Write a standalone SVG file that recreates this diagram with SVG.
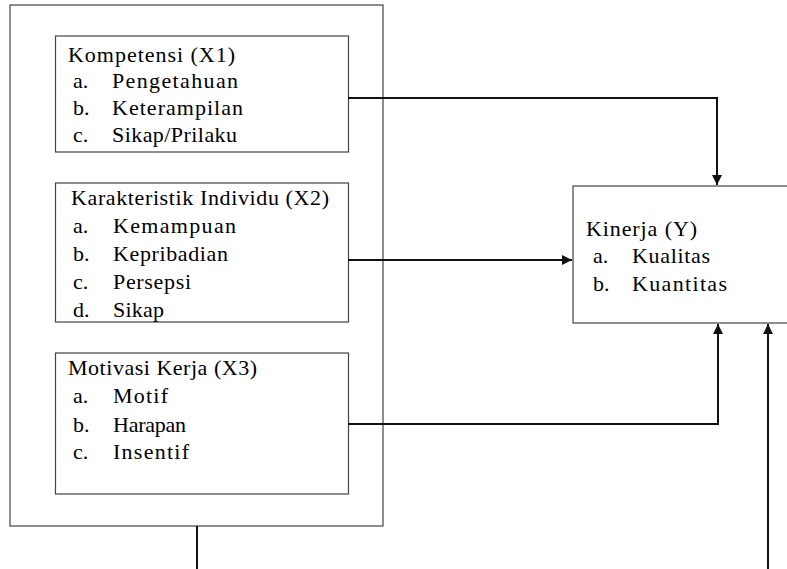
<svg xmlns="http://www.w3.org/2000/svg" width="787" height="569" viewBox="0 0 787 569">
<defs>
<style>
.box{fill:#fff;stroke:#444;stroke-width:1.2}
.t{font-family:"Liberation Serif","Times New Roman",serif;font-size:22px;fill:#000}
.c{fill:none;stroke:#111;stroke-width:2}
</style>
<marker id="ah" viewBox="0 0 10 10" refX="10" refY="5" markerWidth="11" markerHeight="10" markerUnits="userSpaceOnUse" orient="auto">
<path d="M0,0 L10,5 L0,10 Z" fill="#111"/>
</marker>
</defs>
<rect width="787" height="569" fill="#fff"/>
<g id="outer"><rect class="box" x="10" y="5" width="373" height="521"/></g>
<g id="x1">
<rect class="box" x="55.5" y="36" width="293" height="116"/>
<text class="t" x="68" y="62" textLength="167" lengthAdjust="spacing">Kompetensi (X1)</text>
<text class="t" x="73" y="88">a.</text><text class="t" x="112" y="88" textLength="126" lengthAdjust="spacing">Pengetahuan</text>
<text class="t" x="73" y="115">b.</text><text class="t" x="112" y="115" textLength="131" lengthAdjust="spacing">Keterampilan</text>
<text class="t" x="73" y="142">c.</text><text class="t" x="112" y="142" textLength="125" lengthAdjust="spacing">Sikap/Prilaku</text>
</g>
<g id="x2">
<rect class="box" x="55.5" y="183" width="293" height="139"/>
<text class="t" x="71" y="205" textLength="258" lengthAdjust="spacing">Karakteristik Individu (X2)</text>
<text class="t" x="73" y="233">a.</text><text class="t" x="113" y="233" textLength="123" lengthAdjust="spacing">Kemampuan</text>
<text class="t" x="73" y="261">b.</text><text class="t" x="113" y="261" textLength="115" lengthAdjust="spacing">Kepribadian</text>
<text class="t" x="73" y="289">c.</text><text class="t" x="113" y="289" textLength="78" lengthAdjust="spacing">Persepsi</text>
<text class="t" x="73" y="317">d.</text><text class="t" x="113" y="317" textLength="51" lengthAdjust="spacing">Sikap</text>
</g>
<g id="x3">
<rect class="box" x="55.5" y="353" width="293" height="141"/>
<text class="t" x="68" y="375" textLength="189" lengthAdjust="spacing">Motivasi Kerja (X3)</text>
<text class="t" x="73" y="403">a.</text><text class="t" x="113" y="403" textLength="55" lengthAdjust="spacing">Motif</text>
<text class="t" x="73" y="432">b.</text><text class="t" x="113" y="432" textLength="73" lengthAdjust="spacing">Harapan</text>
<text class="t" x="73" y="459">c.</text><text class="t" x="113" y="459" textLength="76" lengthAdjust="spacing">Insentif</text>
</g>
<g id="y">
<rect class="box" x="573" y="186" width="220" height="137"/>
<text class="t" x="586" y="236" textLength="111" lengthAdjust="spacing">Kinerja (Y)</text>
<text class="t" x="593" y="263">a.</text><text class="t" x="632" y="263" textLength="78" lengthAdjust="spacing">Kualitas</text>
<text class="t" x="593" y="291">b.</text><text class="t" x="632" y="291" textLength="95" lengthAdjust="spacing">Kuantitas</text>
</g>
<g id="connectors">
<polyline class="c" points="348,98 717,98 717,185" marker-end="url(#ah)"/>
<line class="c" x1="348" y1="260" x2="572" y2="260" marker-end="url(#ah)"/>
<polyline class="c" points="348,424 718,424 718,324" marker-end="url(#ah)"/>
<line class="c" x1="768" y1="569" x2="768" y2="324" marker-end="url(#ah)"/>
<line class="c" x1="197" y1="526" x2="197" y2="569"/>
</g>
</svg>
